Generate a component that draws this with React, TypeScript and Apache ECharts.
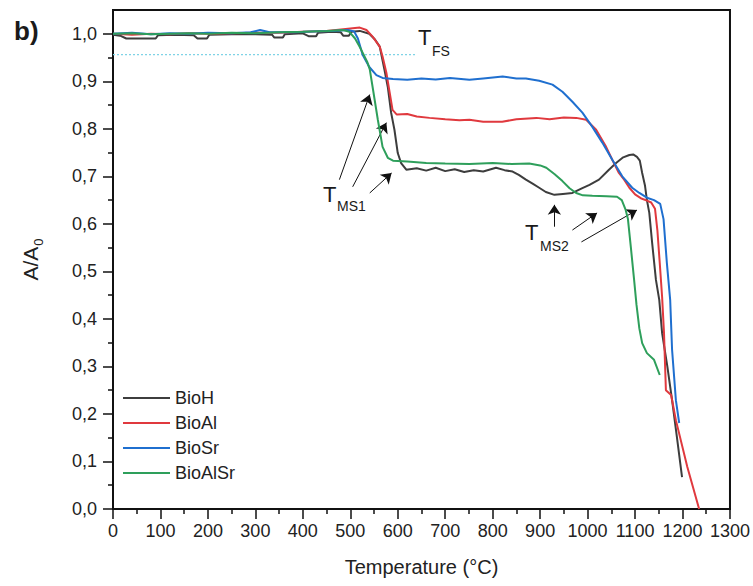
import React, { useEffect, useRef } from "react";
import * as echarts from "echarts";

const seriesNames = ["BioH", "BioAl", "BioSr", "BioAlSr"];
const seriesColors = ["#3d3d3d", "#e0393e", "#1f6fcf", "#2e9f5b"];

const bioH: [number, number][] = [
  [0, 0.998], [15, 0.996], [28, 0.99], [60, 0.99], [90, 0.99], [95, 0.997], [130, 0.998],
  [170, 0.997], [178, 0.99], [198, 0.99], [203, 0.998], [250, 0.999], [300, 0.999],
  [335, 0.998], [340, 0.992], [358, 0.992], [362, 0.999], [400, 1.001], [412, 0.995],
  [428, 0.995], [432, 1.002], [460, 1.004], [480, 1.003], [485, 0.996], [497, 0.996],
  [502, 1.004], [520, 1.006], [540, 1.0], [552, 0.988], [562, 0.973], [572, 0.924],
  [579, 0.888], [586, 0.834], [593, 0.798], [600, 0.749], [607, 0.728], [618, 0.714],
  [640, 0.717], [660, 0.712], [680, 0.718], [700, 0.711], [720, 0.715], [740, 0.709],
  [760, 0.713], [780, 0.71], [807, 0.718], [825, 0.713], [842, 0.71], [855, 0.703],
  [870, 0.693], [885, 0.684], [898, 0.676], [912, 0.667], [930, 0.661], [948, 0.663],
  [968, 0.665], [989, 0.675], [1004, 0.682], [1024, 0.693], [1045, 0.714], [1060, 0.728],
  [1075, 0.74], [1088, 0.745], [1096, 0.746], [1104, 0.741], [1110, 0.733], [1115, 0.707],
  [1121, 0.68], [1125, 0.65], [1130, 0.623], [1136, 0.56], [1144, 0.482], [1151, 0.44],
  [1157, 0.37], [1168, 0.3], [1178, 0.229], [1189, 0.145], [1199, 0.067]
];

const bioAl: [number, number][] = [
  [0, 1.0], [40, 0.998], [80, 1.0], [120, 0.999], [160, 1.001], [200, 1.0], [250, 1.001],
  [300, 1.002], [350, 1.002], [400, 1.004], [450, 1.006], [480, 1.009], [500, 1.011],
  [520, 1.013], [534, 1.008], [547, 0.994], [562, 0.973], [568, 0.952], [576, 0.918],
  [583, 0.876], [589, 0.84], [598, 0.83], [620, 0.831], [640, 0.826], [667, 0.823],
  [700, 0.82], [730, 0.818], [751, 0.819], [780, 0.815], [820, 0.815], [850, 0.82],
  [892, 0.823], [920, 0.82], [950, 0.824], [976, 0.823], [997, 0.819], [1018, 0.798],
  [1039, 0.762], [1052, 0.735], [1066, 0.707], [1077, 0.693], [1088, 0.676], [1100, 0.662],
  [1112, 0.654], [1125, 0.649], [1134, 0.645], [1142, 0.632], [1147, 0.587], [1152, 0.518],
  [1157, 0.446], [1161, 0.37], [1165, 0.25], [1176, 0.24], [1186, 0.187], [1210, 0.089],
  [1235, 0.0]
];

const bioSr: [number, number][] = [
  [0, 1.0], [40, 1.002], [80, 0.999], [120, 1.001], [160, 1.0], [200, 1.002], [250, 1.001],
  [290, 1.003], [310, 1.008], [330, 1.003], [380, 1.003], [420, 1.005], [460, 1.006],
  [495, 1.008], [508, 1.005], [516, 0.99], [526, 0.956], [540, 0.93], [555, 0.913],
  [568, 0.907], [590, 0.905], [620, 0.903], [650, 0.906], [680, 0.904], [710, 0.907],
  [751, 0.903], [780, 0.906], [821, 0.91], [850, 0.906], [870, 0.906], [898, 0.901],
  [926, 0.893], [947, 0.878], [968, 0.857], [989, 0.834], [1010, 0.804], [1031, 0.771],
  [1052, 0.735], [1073, 0.7], [1094, 0.676], [1109, 0.665], [1125, 0.655], [1140, 0.65],
  [1153, 0.642], [1160, 0.61], [1167, 0.518], [1174, 0.44], [1178, 0.335], [1186, 0.229],
  [1193, 0.181]
];

const bioAlSr: [number, number][] = [
  [0, 1.0], [40, 1.001], [80, 0.999], [120, 1.0], [160, 1.001], [200, 1.0], [250, 1.002],
  [300, 1.001], [350, 1.003], [400, 1.004], [450, 1.006], [485, 1.008], [498, 1.004],
  [510, 0.99], [520, 0.972], [526, 0.96], [536, 0.94], [541, 0.925], [547, 0.888],
  [558, 0.819], [568, 0.762], [579, 0.739], [590, 0.733], [620, 0.731], [660, 0.728],
  [700, 0.727], [751, 0.726], [800, 0.728], [840, 0.726], [877, 0.727], [900, 0.723],
  [913, 0.718], [930, 0.705], [947, 0.69], [962, 0.675], [976, 0.665], [990, 0.66],
  [1010, 0.659], [1040, 0.658], [1062, 0.657], [1072, 0.65], [1080, 0.63], [1085, 0.61],
  [1091, 0.552], [1098, 0.482], [1103, 0.43], [1109, 0.38], [1115, 0.349], [1125, 0.328],
  [1140, 0.314], [1152, 0.282]
];

const tfsLine: [number, number][] = [[0, 0.956], [640, 0.956]];

const xMin = 0;
const xMax = 1300;
const xInterval = 100;
const yMax = 1.05;
const yMajorTicks = [0, 0.1, 0.2, 0.3, 0.4, 0.5, 0.6, 0.7, 0.8, 0.9, 1.0];
const yMinorTicks = [0.05, 0.15, 0.25, 0.35, 0.45, 0.55, 0.65, 0.75, 0.85, 0.95];

// arrows: [from T, from A/A0, to T, to A/A0]
const arrowsMS1 = [
  [477, 0.693, 541, 0.872],
  [505, 0.678, 576, 0.813],
  [541, 0.665, 587, 0.707]
];
const arrowsMS2 = [
  [930, 0.594, 930, 0.64],
  [968, 0.587, 1020, 0.623],
  [987, 0.562, 1104, 0.629]
];

const FONT = "'Liberation Sans', Arial, Helvetica, sans-serif";

export default function App() {
  const ref = useRef<HTMLDivElement>(null);

  useEffect(() => {
    if (!ref.current) return;
    const chart = echarts.init(ref.current, undefined, { renderer: "svg" });
    const dataSets = [bioH, bioAl, bioSr, bioAlSr];
    const arrowData = [...arrowsMS1, ...arrowsMS2].map((a) => [
      { coord: [a[0], a[1]] },
      { coord: [a[2], a[3]] }
    ]);

    const textEl = (text: string, x: number, y: number, size: number, bold = false) => ({
      type: "text",
      x,
      y,
      silent: true,
      style: {
        text,
        fontSize: size,
        fontFamily: FONT,
        fontWeight: bold ? "bold" : "normal",
        fill: "#1a1a1a",
        align: "left",
        verticalAlign: "middle"
      }
    });

    chart.setOption({
      animation: false,
      backgroundColor: "#ffffff",
      textStyle: { fontFamily: FONT },
      grid: {
        left: 113,
        right: 22,
        top: 10,
        bottom: 77,
        show: true,
        borderColor: "#111",
        borderWidth: 2,
        backgroundColor: "transparent"
      },
      legend: {
        data: seriesNames,
        orient: "vertical",
        left: 118,
        top: 383,
        icon: "rect",
        itemWidth: 47,
        itemHeight: 2,
        itemGap: 5,
        textStyle: { fontSize: 18, color: "#222", fontFamily: FONT, lineHeight: 20 }
      },
      xAxis: {
        type: "value",
        min: xMin,
        max: xMax,
        interval: xInterval,
        name: "Temperature (°C)",
        nameLocation: "middle",
        nameGap: 48,
        nameTextStyle: { fontSize: 20, color: "#222", fontFamily: FONT },
        axisLine: { show: true, onZero: false, lineStyle: { color: "#111", width: 2 } },
        axisTick: { show: true, inside: false, length: 10, lineStyle: { color: "#111", width: 1.5 } },
        minorTick: { show: true, splitNumber: 2, length: 5, lineStyle: { color: "#111", width: 1.5 } },
        axisLabel: {
          fontSize: 18,
          color: "#222",
          margin: 13,
          fontFamily: FONT,
          formatter: (v: number) => String(Math.round(v))
        },
        splitLine: { show: false },
        minorSplitLine: { show: false }
      },
      yAxis: [
        {
          type: "value",
          min: 0,
          max: yMax,
          interval: 0.1,
          name: "A/A{sub|0}",
          nameLocation: "middle",
          nameGap: 72,
          nameRotate: 90,
          nameTextStyle: {
            fontSize: 21,
            color: "#222",
            fontFamily: FONT,
            rich: { sub: { fontSize: 13, fontFamily: FONT, color: "#222", verticalAlign: "bottom", padding: [0, 0, -4, 1] } }
          },
          axisLine: { show: true, onZero: false, lineStyle: { color: "#111", width: 2 } },
          axisTick: { show: true, inside: false, length: 10, customValues: yMajorTicks, lineStyle: { color: "#111", width: 1.5 } },
          axisLabel: {
            fontSize: 18,
            color: "#222",
            margin: 16,
            fontFamily: FONT,
            customValues: yMajorTicks,
            formatter: (v: number) => (v > 1.001 ? "" : v.toFixed(1).replace(".", ","))
          },
          splitLine: { show: false }
        },
        {
          type: "value",
          min: 0,
          max: yMax,
          position: "left",
          axisLine: { show: false },
          axisTick: { show: true, inside: false, length: 5, customValues: yMinorTicks, lineStyle: { color: "#111", width: 1.5 } },
          axisLabel: { show: false },
          splitLine: { show: false }
        }
      ],
      series: [
        ...seriesNames.map((name, i) => ({
          name,
          type: "line",
          data: dataSets[i],
          symbol: "none",
          showSymbol: false,
          color: seriesColors[i],
          lineStyle: { color: seriesColors[i], width: 2 },
          z: 3 + i
        })),
        {
          name: "TFS",
          type: "line",
          data: tfsLine,
          symbol: "none",
          color: "#7fd3e6",
          lineStyle: { color: "#7fd3e6", width: 1.2, type: [2, 2] },
          z: 2,
          markLine: {
            silent: true,
            symbol: ["none", "arrow"],
            symbolSize: 10,
            label: { show: false },
            lineStyle: { color: "#111", width: 1, type: "solid" },
            emphasis: { disabled: true },
            data: arrowData
          }
        }
      ],
      graphic: [
        textEl("b)", 14, 31, 26, true),
        textEl("T", 418, 37, 22),
        textEl("FS", 432, 51, 14),
        textEl("T", 323, 194, 22),
        textEl("MS1", 337, 206, 14),
        textEl("T", 525, 232, 22),
        textEl("MS2", 540, 246, 14)
      ]
    });

    return () => chart.dispose();
  }, []);

  return (
    <div
      ref={ref}
      style={{ position: "fixed", left: 0, top: 0, width: 753, height: 586, background: "#fff" }}
    />
  );
}
